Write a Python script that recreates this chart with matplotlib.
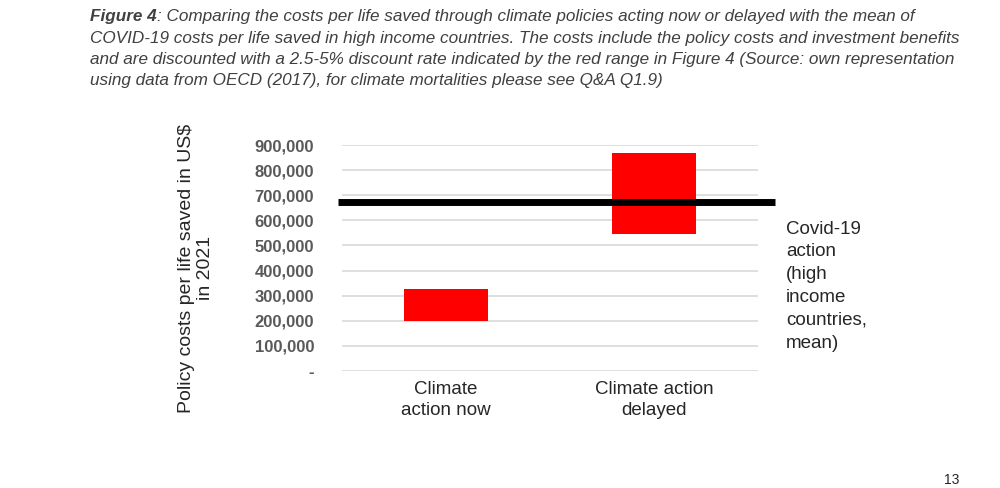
import numpy as np
import matplotlib.pyplot as plt
from matplotlib.ticker import FuncFormatter

plt.rcParams['font.family'] = ['Liberation Sans', 'DejaVu Sans']

# data (US$ per life saved)
categories = ['Climate\naction now', 'Climate action\ndelayed']
range_low = [200000, 545000]
range_high = [325000, 867000]
covid_mean = 673000
covid_label = 'Covid-19\naction\n(high\nincome\ncountries,\nmean)'

caption_lines = [
    ': Comparing the costs per life saved through climate policies acting now or delayed with the mean of',
    'COVID-19 costs per life saved in high income countries. The costs include the policy costs and investment benefits',
    'and are discounted with a 2.5-5% discount rate indicated by the red range in Figure 4 (Source: own representation',
    'using data from OECD (2017), for climate mortalities please see Q&A Q1.9)',
]

fig = plt.figure(figsize=(10, 4.88), dpi=100)
ax = fig.add_axes([0.342, 0.2398, 0.416, 0.463])

x = np.arange(len(categories))
heights = np.array(range_high) - np.array(range_low)
ax.bar(x, heights, bottom=range_low, width=0.4, color='#ff0000', zorder=3)
ax.plot([-0.52, 1.58], [covid_mean, covid_mean], color='black', linewidth=5,
        solid_capstyle='butt', zorder=4, clip_on=False)

ax.set_xlim(-0.5, 1.5)
ax.set_ylim(0, 900000)
ax.set_yticks(np.arange(0, 900001, 100000))
ax.yaxis.set_major_formatter(FuncFormatter(lambda v, p: '-' if v == 0 else f'{int(v):,}'))
ax.grid(axis='y', color='#d9d9d9', linewidth=1.2, zorder=0)
for s in ax.spines.values():
    s.set_visible(False)
ax.tick_params(axis='y', length=0, pad=20, labelsize=12, labelcolor='#595959')
for lbl in ax.get_yticklabels():
    lbl.set_fontweight('bold')
ax.set_xticks(x)
ax.set_xticklabels(categories, fontsize=13.5, color='#262626', linespacing=1.35)
ax.tick_params(axis='x', length=0, pad=7)

fig.text(0.196, 0.45, 'Policy costs per life saved in US$\nin 2021', rotation=90,
         ha='center', va='center', fontsize=14, color='#262626', multialignment='center')

fig.text(0.786, 0.548, covid_label, ha='left', va='top', fontsize=13.5,
         color='#262626', linespacing=1.45)

# caption
cap_font = ['Liberation Sans Narrow', 'Liberation Sans', 'DejaVu Sans']
cap_size = 12.3
t1 = fig.text(0.09, 1 - 17 / 488, 'Figure 4', ha='left', va='center', fontsize=cap_size,
              fontstyle='italic', fontweight='bold', color='#404040', family=cap_font)
ax.annotate(caption_lines[0], xy=(1, 0.5), xycoords=t1, va='center', ha='left',
            fontsize=cap_size, fontstyle='italic', color='#404040', family=cap_font,
            annotation_clip=False)
for i, line in enumerate(caption_lines[1:]):
    fig.text(0.09, 1 - (38 + 21.2 * i) / 488, line, ha='left', va='center', fontsize=cap_size,
             fontstyle='italic', color='#404040', family=cap_font)

fig.text(0.952, 0.002, '13', ha='center', va='bottom', fontsize=10, color='#262626')

fig.savefig('out.png', dpi=100, facecolor='white')
